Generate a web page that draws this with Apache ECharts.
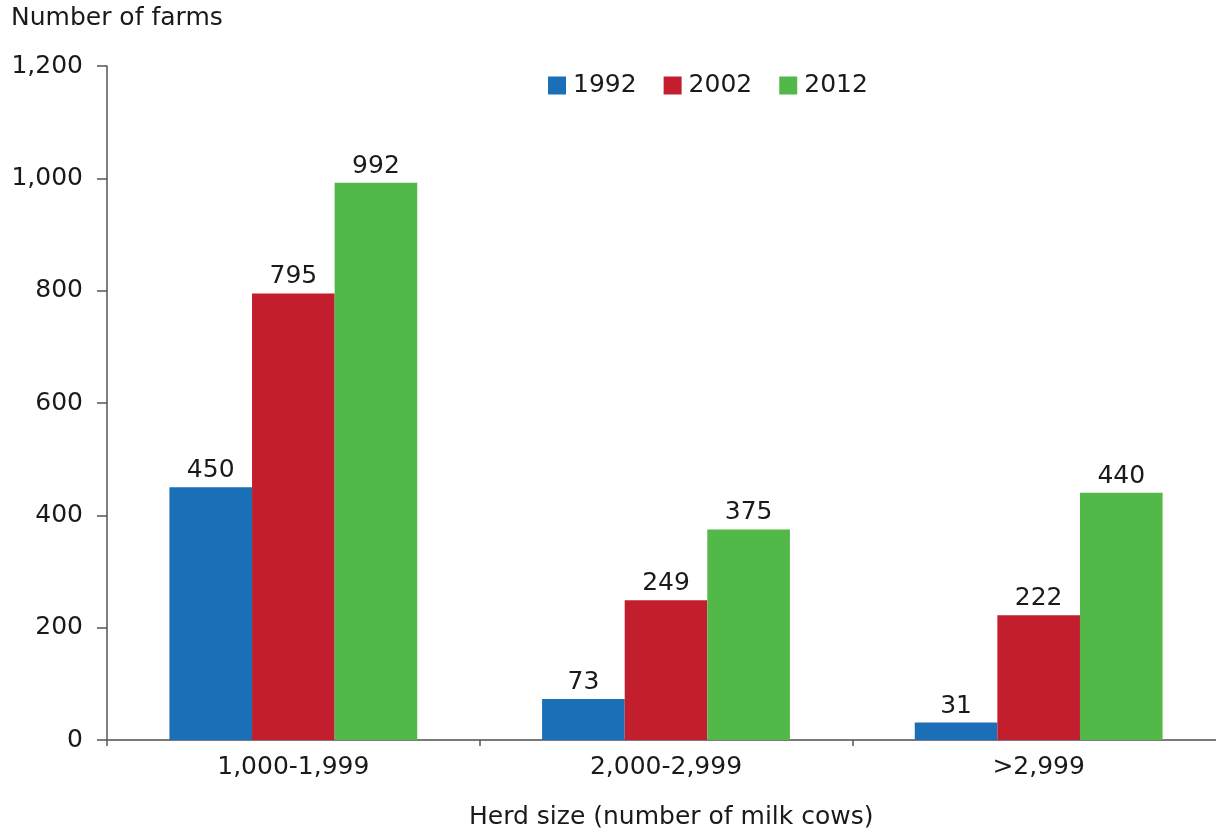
<!DOCTYPE html>
<html>
<head>
<meta charset="utf-8">
<script src="https://cdn.jsdelivr.net/npm/echarts@6/dist/echarts.min.js"></script>
<style>
  html, body { margin: 0; padding: 0; background: #ffffff; }
  #chart { width: 1216px; height: 835px; }
</style>
</head>
<body>
<div id="chart"></div>
<script>
// Herd-size classes and farm counts by census year
const categories = ['1,000-1,999', '2,000-2,999', '>2,999'];
const years = ['1992', '2002', '2012'];
const farms1992 = [450, 73, 31];
const farms2002 = [795, 249, 222];
const farms2012 = [992, 375, 440];
const yTicks = [0, 200, 400, 600, 800, 1000, 1200];

const colors = ['#1a6fb6', '#c21e2e', '#52b848'];
const FONT = '"DejaVu Sans", "Liberation Sans", Arial, sans-serif';
const FS = 25;
const textColor = '#1a1a1a';

const chart = echarts.init(document.getElementById('chart'), null, { renderer: 'canvas' });

function barSeries(name, data, color) {
  return {
    name: name,
    type: 'bar',
    data: data,
    barGap: '0%',
    barCategoryGap: '33.5%',
    itemStyle: { color: color },
    label: {
      show: true,
      position: 'top',
      distance: 4,
      color: textColor,
      fontFamily: FONT,
      fontSize: FS
    },
    emphasis: { disabled: true }
  };
}

chart.setOption({
  animation: false,
  backgroundColor: '#ffffff',
  textStyle: { fontFamily: FONT },
  // the plot runs a little past the right edge of the canvas
  grid: {
    left: 107, top: 66, height: 674, width: 1118,
    containLabel: false,
    outerBoundsMode: 'none'
  },
  legend: {
    data: years,
    left: 543,
    top: 68,
    itemWidth: 18,
    itemHeight: 18,
    itemGap: 27,
    icon: 'rect',
    textStyle: { fontFamily: FONT, fontSize: FS, color: textColor, padding: [0, 0, 0, 2] }
  },
  graphic: [
    {
      type: 'text', left: 11, top: 6,
      style: { text: 'Number of farms', font: FS + 'px ' + FONT, fill: textColor }
    },
    {
      type: 'text', left: 469, top: 805,
      style: { text: 'Herd size (number of milk cows)', font: FS + 'px ' + FONT, fill: textColor }
    }
  ],
  xAxis: {
    type: 'category',
    data: categories,
    axisLine: { lineStyle: { color: '#7a7a7a', width: 2 } },
    axisTick: { show: true, length: 6, alignWithLabel: false, lineStyle: { color: '#555555', width: 1.5 } },
    axisLabel: { margin: 15, color: textColor, fontFamily: FONT, fontSize: FS }
  },
  yAxis: {
    type: 'value',
    min: yTicks[0],
    max: yTicks[yTicks.length - 1],
    interval: yTicks[1] - yTicks[0],
    splitLine: { show: false },
    axisLine: { show: true, lineStyle: { color: '#555555', width: 1.5 } },
    axisTick: { show: true, length: 10, lineStyle: { color: '#555555', width: 1.5 } },
    axisLabel: {
      margin: 24,
      color: textColor,
      fontFamily: FONT,
      fontSize: FS,
      formatter: v => v.toLocaleString('en-US')
    }
  },
  series: [
    barSeries(years[0], farms1992, colors[0]),
    barSeries(years[1], farms2002, colors[1]),
    barSeries(years[2], farms2012, colors[2])
  ]
});
</script>
</body>
</html>
